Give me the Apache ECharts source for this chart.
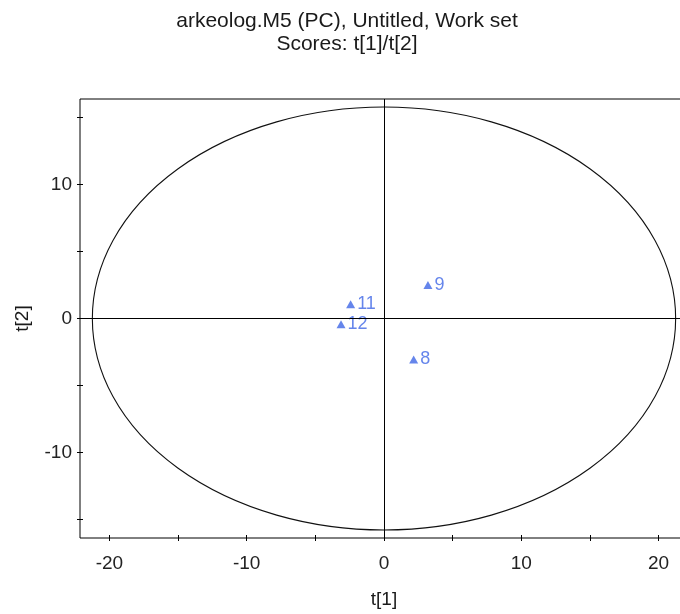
<!DOCTYPE html>
<html>
<head>
<meta charset="utf-8">
<script src="https://cdn.jsdelivr.net/npm/echarts@6/dist/echarts.min.js"></script>
<style>
  html, body { margin: 0; padding: 0; background: #fff; overflow: hidden; }
  #chart { width: 690px; height: 614px; }
</style>
</head>
<body>
<div id="chart"></div>
<script>
// Score observations (PC model, components 1 and 2)
const obsIds = ['8', '9', '11', '12'];
const t1Scores = [2.16, 3.2, -2.43, -3.13];
const t2Scores = [-3.06, 2.5, 1.06, -0.43];

// Hotelling T2 ellipse: centre and semi-axes in score units
const ellipseCenter = [0, 0];
const ellipseRadii = [21.24, 15.77];

// Axis extents and tick positions
const xRange = [-22.14, 22.14];
const yRange = [-16.37, 16.37];
const xTicks = [-20, -15, -10, -5, 0, 5, 10, 15, 20];
const xTickLabels = [-20, -10, 0, 10, 20];
const yTicks = [-15, -10, -5, 0, 5, 10, 15];
const yTickLabels = [-10, 0, 10];

const FONT = "'Liberation Sans', Arial, sans-serif";
const pointColor = '#3f67e6';

const chart = echarts.init(document.getElementById('chart'), null, { renderer: 'canvas' });

const option = {
  animation: false,
  backgroundColor: '#fff',
  title: {
    text: 'arkeolog.M5 (PC), Untitled, Work set\nScores: t[1]/t[2]',
    left: 342,
    textAlign: 'center',
    top: 5,
    textStyle: {
      fontFamily: FONT, fontSize: 21, fontWeight: 'normal',
      color: '#1a1a1a', lineHeight: 23
    }
  },
  grid: {
    left: 80, top: 99, right: 2, bottom: 76,
    show: true, borderColor: '#000', borderWidth: 1, backgroundColor: 'transparent'
  },
  xAxis: {
    type: 'value',
    min: xRange[0], max: xRange[1],
    offset: -3,
    name: 't[1]', nameLocation: 'middle', nameGap: 55,
    nameTextStyle: { fontFamily: FONT, fontSize: 19, color: '#1a1a1a' },
    axisLine: { show: false, onZero: false },
    axisTick: { show: true, inside: false, length: 6, customValues: xTicks,
                lineStyle: { color: '#000', width: 1 } },
    axisLabel: { customValues: xTickLabels, margin: 19,
                 fontFamily: FONT, fontSize: 19, color: '#222' },
    splitLine: { show: false }
  },
  yAxis: {
    type: 'value',
    min: yRange[0], max: yRange[1],
    offset: -3,
    name: 't[2]', nameLocation: 'middle', nameGap: 51, nameRotate: 90,
    nameTextStyle: { fontFamily: FONT, fontSize: 19, color: '#1a1a1a' },
    axisLine: { show: false, onZero: false },
    axisTick: { show: true, inside: false, length: 6, customValues: yTicks,
                lineStyle: { color: '#000', width: 1 } },
    axisLabel: { customValues: yTickLabels, margin: 11,
                 fontFamily: FONT, fontSize: 19, color: '#222' },
    splitLine: { show: false }
  },
  series: [
    {
      type: 'custom',
      silent: true,
      clip: true,
      data: [[ellipseCenter[0], ellipseCenter[1], ellipseRadii[0], ellipseRadii[1]]],
      renderItem: function (params, api) {
        const c = api.coord([api.value(0), api.value(1)]);
        const s = api.size([api.value(2), api.value(3)]);
        const rx = s[0], ry = s[1];
        return {
          type: 'path',
          shape: {
            pathData: 'M ' + (c[0] - rx) + ' ' + c[1] +
              ' A ' + rx + ' ' + ry + ' 0 1 0 ' + (c[0] + rx) + ' ' + c[1] +
              ' A ' + rx + ' ' + ry + ' 0 1 0 ' + (c[0] - rx) + ' ' + c[1] + ' Z'
          },
          style: { fill: 'none', stroke: '#111', lineWidth: 1.1 }
        };
      }
    },
    {
      type: 'scatter',
      symbol: 'triangle',
      symbolSize: [9, 8],
      itemStyle: { color: pointColor },
      data: obsIds.map((id, i) => ({ name: id, value: [t1Scores[i], t2Scores[i]] })),
      label: {
        show: true, position: 'right', distance: 2,
        formatter: '{b}',
        fontFamily: FONT, fontSize: 18, color: pointColor
      },
      markLine: {
        silent: true,
        symbol: ['none', 'none'],
        label: { show: false },
        lineStyle: { color: '#000', width: 1, type: 'solid' },
        emphasis: { disabled: true },
        data: [{ xAxis: 0 }, { yAxis: 0 }]
      }
    }
  ]
};

chart.setOption(option);
</script>
</body>
</html>
